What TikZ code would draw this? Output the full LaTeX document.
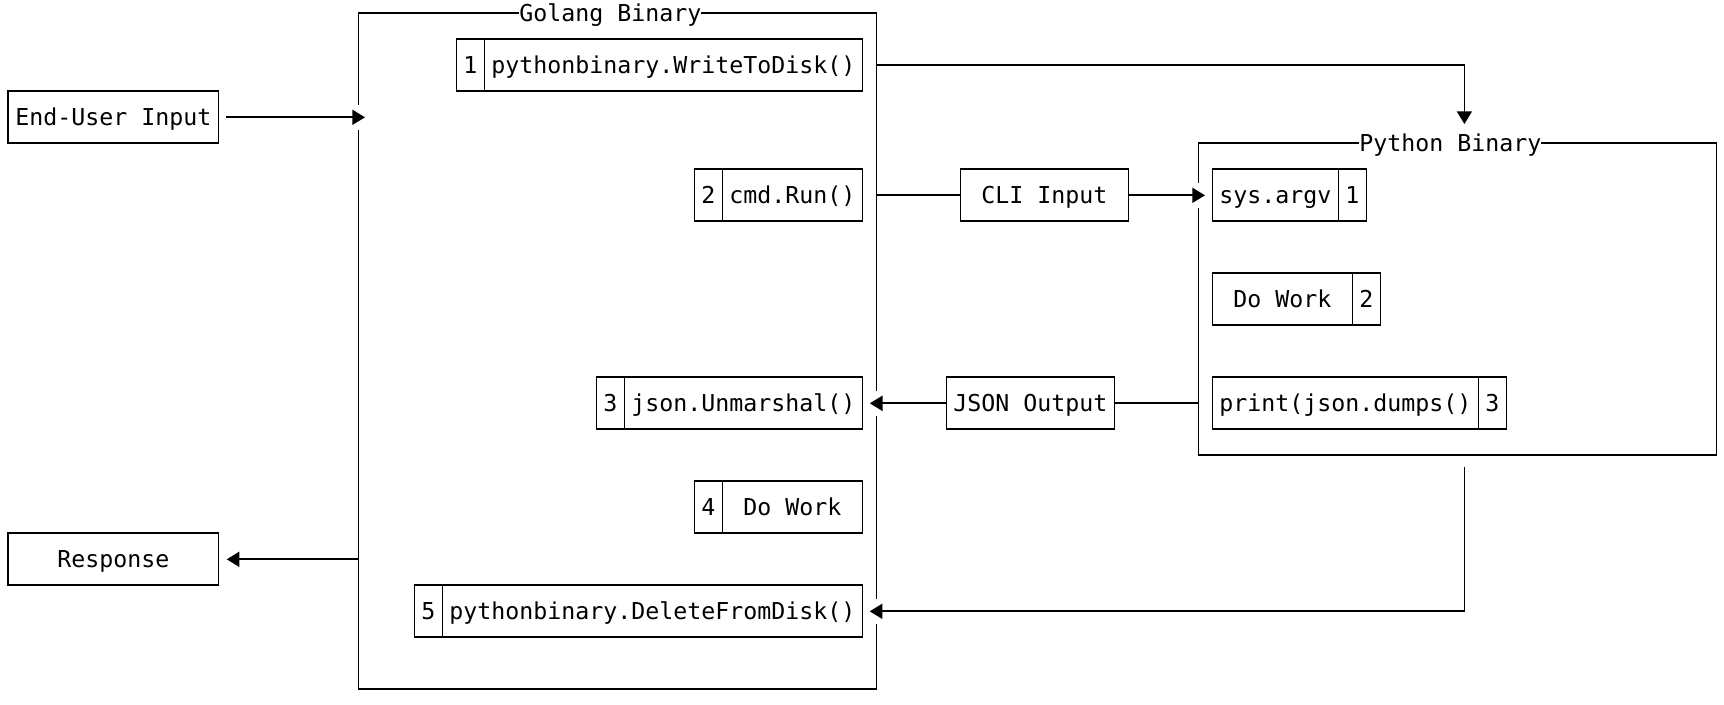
\documentclass[tikz,border=0pt]{standalone}
\usepackage{fontspec}
\setmonofont{DejaVu Sans Mono}
\usetikzlibrary{arrows.meta,calc}
\begin{document}
\begin{tikzpicture}[x=7pt,y=-13pt,
  font=\ttfamily\fontsize{11.63pt}{13pt}\selectfont,
  every node/.style={inner sep=0pt, outer sep=0pt, text height=11.39pt, text depth=2.91pt},
  wd/.style={minimum width={#1*7pt}},
  ht/.style={minimum height={#1*13pt}},
  box/.style={draw, line width=0.9pt, ht=2, wd=#1},
  frame/.style={draw, line width=0.9pt},
  ttl/.style={fill=white, inner ysep=1pt},
  line/.style={line width=0.9pt},
  arr/.style={line width=0.9pt, -{Triangle[length=6.35pt, width=7.5pt]}},
  gap/.style={fill=white}]
\useasboundingbox (-0.6,-0.51154) rectangle (122.5429,26.5654);

% frames
\node[frame, wd=37, ht=26] (golang) at (43.5,13) {};
\node[frame, wd=37, ht=12] (python) at (103.5,11) {};
\node[ttl] (gtitle) at (43,0) {Golang Binary};
\node[ttl] (ptitle) at (103,5) {Python Binary};

% outside boxes
\node[box=15] (eu) at (7.5,4) {End-User Input};
\node[box=15] (resp) at (7.5,21) {Response};

% golang steps
\node[box=2] (b1n) at (33,2) {1};
\node[box=27] (b1t) at (47.5,2) {pythonbinary.WriteToDisk()};
\node[box=2] (b2n) at (50,7) {2};
\node[box=10] (b2t) at (56,7) {cmd.Run()};
\node[box=2] (b3n) at (43,15) {3};
\node[box=17] (b3t) at (52.5,15) {json.Unmarshal()};
\node[box=2] (b4n) at (50,19) {4};
\node[box=10] (b4t) at (56,19) {Do Work};
\node[box=2] (b5n) at (30,23) {5};
\node[box=30] (b5t) at (46,23) {pythonbinary.DeleteFromDisk()};

% middle boxes
\node[box=12] (cli) at (74,7) {CLI Input};
\node[box=12] (json) at (73,15) {JSON Output};

% python steps
\node[box=9] (p1t) at (90.5,7) {sys.argv};
\node[box=2] (p1n) at (96,7) {1};
\node[box=10] (p2t) at (91,11) {Do Work};
\node[box=2] (p2n) at (97,11) {2};
\node[box=19] (p3t) at (95.5,15) {print(json.dumps()};
\node[box=2] (p3n) at (106,15) {3};

\coordinate (ptop) at (104,5);
\coordinate (pbot) at (104,17);

% gaps in frame lines where arrowheads meet them
\fill[gap] ($(golang.west |- eu.east)+(-1.3pt,-6.25pt)$) rectangle ++(2.6pt,12.5pt);
\fill[gap] ($(python.west |- cli.east)+(-1.3pt,-6.25pt)$) rectangle ++(2.6pt,12.5pt);
\fill[gap] ($(golang.east |- json.west)+(-1.3pt,-6.25pt)$) rectangle ++(2.6pt,12.5pt);
\fill[gap] ($(golang.east |- b5t.east)+(-1.3pt,-6.25pt)$) rectangle ++(2.6pt,12.5pt);

% connectors
\draw[arr, shorten <=3.8pt, shorten >=-3.3pt] (eu.east) -- (golang.west |- eu.east);
\draw[arr, shorten >=4.15pt] (golang.west |- resp.east) -- (resp.east);
\draw[arr, shorten >=9.65pt] (golang.east |- b1t.east) -| (ptop);
\draw[line] (golang.east |- b2t.east) -- (cli.west);
\draw[arr, shorten >=-3.3pt] (cli.east) -- (python.west |- cli.east);
\draw[line] (python.west |- p3t.west) -- (json.east);
\draw[arr, shorten >=-3.3pt] (json.west) -- (golang.east |- json.west);
\draw[arr, shorten <=5.7pt, shorten >=-3.35pt] (pbot) |- (golang.east |- b5t.east);
\end{tikzpicture}
\end{document}
